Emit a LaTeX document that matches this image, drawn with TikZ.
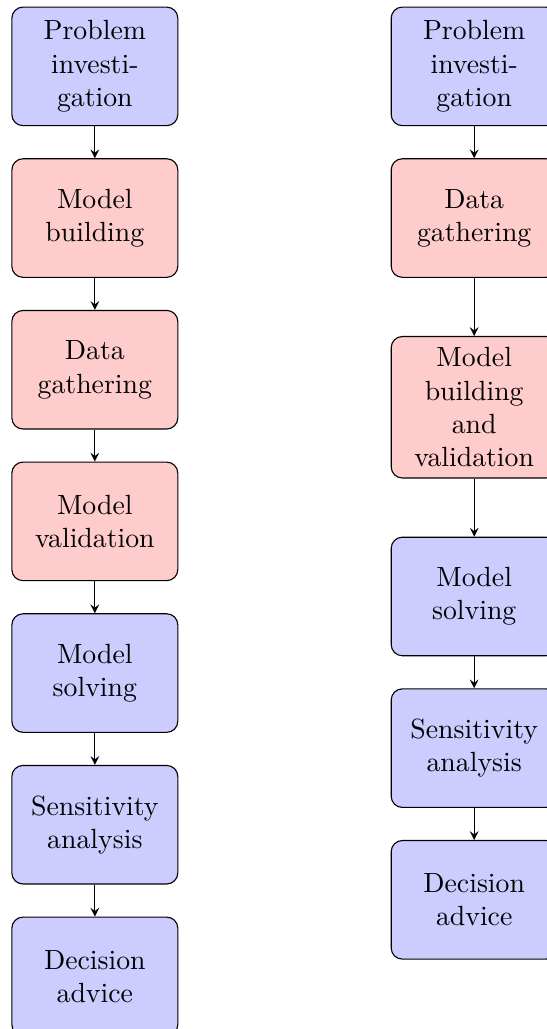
\documentclass[tikz,border=0pt]{standalone}
\usepackage{amsmath}
\usepackage{tikz}
\usepackage{xcolor}
\usetikzlibrary{positioning}

\begin{document}
\begin{tikzpicture}[
        stage/.style={draw, rounded corners, text width=1.8cm, align=center,
            minimum width=2.1cm, minimum height=1.5cm},
        bluebox/.style={stage, fill=blue!20},
        redbox/.style={stage, fill=red!20},
        >=stealth
    ]
        \useasboundingbox (0,0) rectangle (6.91,-13.02);

        % left column
        \node[bluebox] (lprob) at (1.2,-0.84) {Problem investigation};
        \node[redbox, below=0.405cm of lprob] (lbuild) {Model building};
        \node[redbox, below=0.405cm of lbuild] (ldata) {Data gathering};
        \node[redbox, below=0.405cm of ldata] (lvalid) {Model validation};
        \node[bluebox, below=0.405cm of lvalid] (lsolve) {Model solving};
        \node[bluebox, below=0.405cm of lsolve] (lsens) {Sensitivity analysis};
        \node[bluebox, below=0.405cm of lsens] (ladvice) {Decision advice};

        \draw[->] (lprob) -- (lbuild);
        \draw[->] (lbuild) -- (ldata);
        \draw[->] (ldata) -- (lvalid);
        \draw[->] (lvalid) -- (lsolve);
        \draw[->] (lsolve) -- (lsens);
        \draw[->] (lsens) -- (ladvice);

        % right column
        \node[bluebox] (rprob) at (6.0,-0.84) {Problem investigation};
        \node[redbox, below=0.405cm of rprob] (rdata) {Data gathering};
        \node[redbox, below=0.735cm of rdata, minimum height=1.79cm] (rbuild) {Model building and validation};
        \node[bluebox, below=0.735cm of rbuild] (rsolve) {Model solving};
        \node[bluebox, below=0.405cm of rsolve] (rsens) {Sensitivity analysis};
        \node[bluebox, below=0.405cm of rsens] (radvice) {Decision advice};

        \draw[->] (rprob) -- (rdata);
        \draw[->] (rdata) -- (rbuild);
        \draw[->] (rbuild) -- (rsolve);
        \draw[->] (rsolve) -- (rsens);
        \draw[->] (rsens) -- (radvice);
    \end{tikzpicture}
\end{document}
